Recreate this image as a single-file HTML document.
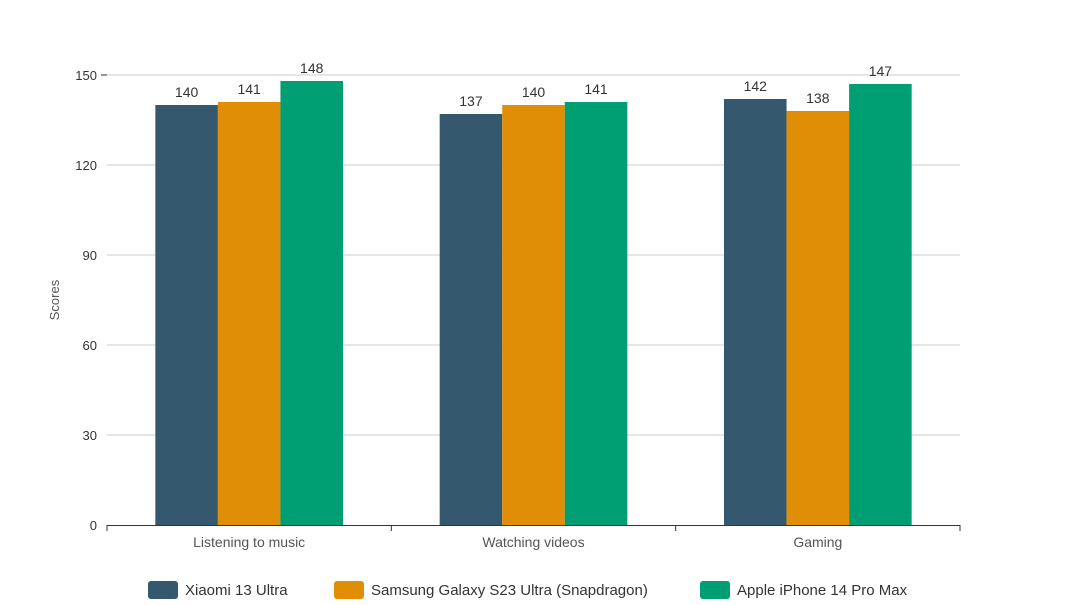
<!DOCTYPE html>
<html><head><meta charset="utf-8"><style>
body{margin:0;background:#fff;font-family:"Liberation Sans",sans-serif}
svg text{font-family:"Liberation Sans",sans-serif}
</style></head><body>
<svg id="c" width="1066" height="600"></svg>
<script>
const categories=["Listening to music","Watching videos","Gaming"];
const seriesNames=["Xiaomi 13 Ultra","Samsung Galaxy S23 Ultra (Snapdragon)","Apple iPhone 14 Pro Max"];
const xiaomi=[140,137,142];
const samsung=[141,140,138];
const apple=[148,141,147];
const ticks=[0,30,60,90,120,150];
const colors=["#34586e","#e08e05","#009e73"];
const series=[xiaomi,samsung,apple];
const svg=document.getElementById('c');const NS="http://www.w3.org/2000/svg";
function mk(t,a,p){const e=document.createElementNS(NS,t);for(const k in a)e.setAttribute(k,a[k]);(p||svg).appendChild(e);return e;}
const x0=107,x1=960,y0=525,yTop=75,maxV=150;
const y=v=>y0-(v/maxV)*(y0-yTop);
const cw=(x1-x0)/categories.length;
const bw=cw*0.22;
ticks.forEach(t=>{
 if(t>0){const g=mk('line',{x1:x0,x2:x1,y1:y(t),y2:y(t),stroke:'#ccc'});}
 const l=mk('text',{x:97,y:y(t)+5,'text-anchor':'end','font-size':13,fill:'#333'});l.textContent=t;
 
});
const yt=mk('text',{x:59,y:300,'text-anchor':'middle','font-size':13,fill:'#555',transform:'rotate(-90 59 300)'});yt.textContent='Scores';

categories.forEach((c,i)=>{
 const cx=x0+cw*(i+0.5);
 series.forEach((s,j)=>{
  const bx=cx+(j-1.5)*bw;
  const r=mk('rect',{x:bx,y:y(s[i]),width:bw,height:y0-y(s[i]),fill:colors[j]});
  
  const t=mk('text',{x:bx+bw/2,y:y(s[i])-8,'text-anchor':'middle','font-size':14,fill:'#333'});t.textContent=s[i];
  
 });
 const l=mk('text',{x:cx,y:547,'text-anchor':'middle','font-size':14,fill:'#555'});l.textContent=c;
 
});
const ax=mk('line',{x1:x0,x2:x1,y1:y0+0.5,y2:y0+0.5,stroke:'#333'});
for(let i=0;i<=categories.length;i++){const tk=mk('line',{x1:x0+cw*i,x2:x0+cw*i,y1:y0,y2:y0+6,stroke:'#333'});}
const yax=mk('line',{x1:x0-6,x2:x0,y1:yTop,y2:yTop,stroke:'#333'});
const lx=[148,334,700];
seriesNames.forEach((n,j)=>{
 const r=mk('rect',{x:lx[j],y:581,width:30,height:18,rx:3,fill:colors[j]});
 
 const t=mk('text',{x:lx[j]+37,y:595,'font-size':15,fill:'#333'});t.textContent=n;
 
});
</script>
</body></html>
